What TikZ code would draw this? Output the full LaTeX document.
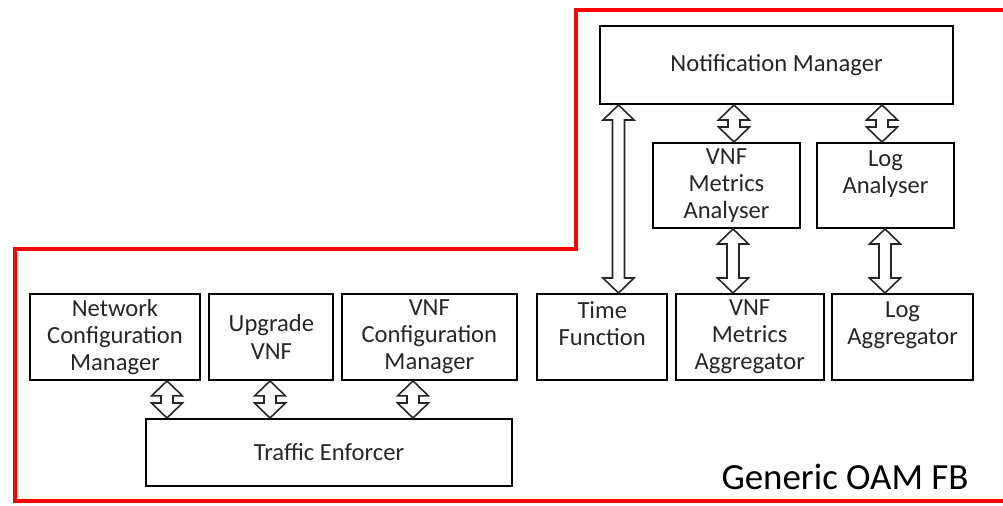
\documentclass[tikz,border=0pt]{standalone}
\usepackage{fontspec}
\setmainfont{Carlito}
\usetikzlibrary{positioning, calc}

\newcommand{\arrhalfhead}{0.31cm}
\newcommand{\arrhalfshaft}{0.12cm}
\newcommand{\arrheadlen}{0.3cm}
% hollow double block arrow at x=#1, from node #2 (above) down to node #3
\newcommand{\linkarrow}[3]{%
  \draw[linkarr] let \p1=(#1,0 |- #2.south), \p2=(#1,0 |- #3.north) in
    (\p1) -- ++(\arrhalfhead,-\arrheadlen) -- ++(-\arrhalfhead+\arrhalfshaft,0)
    -- (\x2+\arrhalfshaft,\y2+\arrheadlen) -- ++(\arrhalfhead-\arrhalfshaft,0)
    -- (\p2) -- ++(-\arrhalfhead,\arrheadlen) -- ++(\arrhalfhead-\arrhalfshaft,0)
    -- (\x1-\arrhalfshaft,\y1-\arrheadlen) -- ++(-\arrhalfhead+\arrhalfshaft,0) -- cycle;}

\begin{document}
\begin{tikzpicture}[
    block/.style={rectangle, draw, line width=1.1pt, minimum height=1.72cm, align=center, inner sep=2pt, text=black!85, font=\fontsize{14}{15.5}\selectfont},
    linkarr/.style={draw=black!85, fill=white, line width=0.9pt, line join=miter},
    oamframe/.style={draw=red, line width=2.8pt, line join=miter},
]
    \useasboundingbox (0,0) rectangle (20.06,-10.1);

    % Bottom row
    \node[block, minimum width=3.4cm, anchor=north west] (netconf) at (0.58,-5.86) {Network\\Configuration\\Manager};
    \node[block, minimum width=2.48cm, right=0.15cm of netconf] (upgrade) {Upgrade\\VNF};
    \node[block, minimum width=3.5cm, right=0.13cm of upgrade] (vnfconf) {VNF\\Configuration\\Manager};
    \node[block, minimum width=2.6cm, right=0.37cm of vnfconf] (time) {Time\\Function\\~};
    \node[block, minimum width=2.96cm, right=0.13cm of time] (vmag) {VNF\\Metrics\\Aggregator};
    \node[block, minimum width=2.82cm, right=0.13cm of vmag] (logag) {Log\\Aggregator\\~};
    \node[block, minimum width=7.32cm, minimum height=1.34cm] (traffic) at (6.58,-9.05) {Traffic Enforcer};

    % Top part
    \node[block, minimum width=7.06cm, minimum height=1.56cm] (notif) at (15.53,-1.3) {Notification Manager};
    \node[block, minimum width=2.94cm, minimum height=1.7cm] (vma) at (14.53,-3.71) {VNF\\Metrics\\Analyser};
    \node[block, minimum width=2.74cm, minimum height=1.7cm] (loga) at (17.71,-3.71) {Log\\Analyser\\~};

    % Links
    \linkarrow{3.34}{netconf}{traffic}
    \linkarrow{5.4}{upgrade}{traffic}
    \linkarrow{8.26}{vnfconf}{traffic}
    \linkarrow{12.37}{notif}{time}
    \linkarrow{14.68}{notif}{vma}
    \linkarrow{17.64}{notif}{loga}
    \linkarrow{14.66}{vma}{vmag}
    \linkarrow{17.7}{loga}{logag}

    % Generic OAM FB boundary
    \draw[oamframe] (20.2,-0.2) -- (11.52,-0.2) -- (11.52,-4.98) -- (0.3,-4.98) -- (0.3,-10.02) -- (20.2,-10.02);
    \node[anchor=base, font=\fontsize{21}{25}\selectfont] (oamfb) at (16.9,-9.78) {Generic OAM FB};
\end{tikzpicture}
\end{document}
